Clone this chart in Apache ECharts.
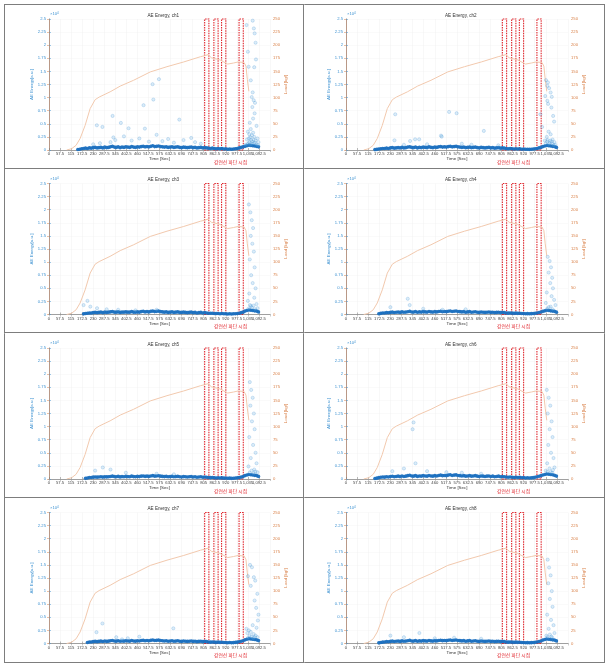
<!DOCTYPE html>
<html><head><meta charset="utf-8">
<script src="https://cdn.jsdelivr.net/npm/echarts@6/dist/echarts.min.js"></script>
<style>html,body{margin:0;padding:0;background:#fff}#c{width:609px;height:670px}</style>
</head><body><div id="c"></div>
<script>
// ---------------- data ----------------
const xTicks = [0,57.5,115,172.5,230,287.5,345,402.5,460,517.5,575,632.5,690,747.5,805,862.5,920,977.5,1035,1092.5,1150];
const energyTicks = [0,0.25,0.5,0.75,1,1.25,1.5,1.75,2,2.25,2.5]; // x10^4
const loadTicks = [0,25,50,75,100,125,150,175,200,225,250];
const channels = ['ch1','ch2','ch3','ch4','ch5','ch6','ch7','ch8'];

// load curve (kgf) vs time (s)
const loadTime  = [92,118,141,162,188,214,240,261,318,371,440,527,614,701,788,810,828,845,889,930,960,985,1015,1025,1032,1040];
const loadValue = [0,2.5,9,22,47,79,96,101,111,122,133,149,159,168,178,180,182,176,172,164,166,168,167,160,135,112];

// red dashed boxes: strand rupture moments
const breakStart = [810,858,898,989];
const breakEnd   = [832,880,920,1011];

// dense low-energy band: times (s)
const bandTime = [150,160,170,180,190,200,210,220,230,240,250,260,270,280,290,300,310,320,330,340,350,360,370,380,390,400,410,420,430,440,450,460,470,480,490,500,510,520,530,540,550,560,570,580,590,600,610,620,630,640,650,660,670,680,690,700,710,720,730,740,750,760,770,780,790,800,810,820,830,840,850,860,870,880,890,900,910,920,930,940,950,960,970,980,990,1000,1010,1020,1030,1040,1050,1060,1070,1080,1090,1100];
const band_ch1 = [100,150,250,300,350,300,400,350,450,500,400,450,500,400,550,450,500,600,700,550,500,600,450,550,500,600,550,500,650,550,500,600,550,650,700,600,650,600,700,800,650,700,750,650,600,550,600,500,550,600,500,550,600,500,450,550,500,450,500,550,450,500,400,450,500,400,450,400,350,300,350,300,250,300,250,300,200,250,150,200,150,200,250,300,400,500,600,700,800,900,850,800,750,700,600,null];
const band_ch2 = [80,120,200,250,300,300,350,300,400,450,350,400,450,400,500,400,450,550,600,500,450,550,400,500,450,550,500,450,600,500,450,550,500,600,650,550,600,550,650,700,600,650,700,600,550,500,550,450,500,550,450,500,550,450,400,500,450,400,450,500,400,450,350,400,450,350,400,350,300,250,300,250,200,250,200,250,150,200,150,150,120,150,200,250,300,400,500,650,750,850,800,750,700,650,500,null];
const band_ch3 = [null,null,null,120,200,250,300,300,350,400,350,400,450,350,450,400,450,500,550,450,450,500,400,450,450,500,450,450,550,450,450,500,450,550,600,500,550,500,600,650,550,600,650,550,500,450,500,400,450,500,400,450,500,400,400,450,400,350,400,450,350,400,300,350,400,300,350,300,250,250,250,200,200,200,150,200,150,150,100,150,100,150,150,200,250,350,450,650,750,850,800,750,700,650,500,null];
const band_ch4 = [null,null,150,220,280,300,350,320,400,450,380,420,460,400,500,420,460,520,600,480,460,540,420,500,460,540,500,460,580,500,460,540,500,580,620,540,580,540,620,680,580,620,660,580,540,500,540,440,500,540,440,480,520,440,400,480,440,400,440,480,400,440,360,400,440,360,400,360,300,260,300,260,220,260,220,240,180,200,150,160,140,160,200,240,300,380,480,600,700,800,750,700,650,600,450,null];
const band_ch5 = [null,null,null,null,120,200,280,300,350,380,350,380,420,360,440,400,440,480,540,460,440,500,400,460,440,500,460,440,540,460,440,500,460,540,580,500,540,500,580,640,540,580,620,540,500,460,500,420,460,500,420,460,500,420,380,460,420,380,420,460,380,420,340,380,420,340,380,340,300,260,280,240,200,240,200,220,160,180,140,160,120,150,180,220,280,360,460,650,750,850,800,750,700,650,500,null];
const band_ch6 = [100,160,260,320,380,350,420,380,480,520,440,480,540,460,580,480,540,640,720,580,540,640,500,580,540,640,580,540,680,580,540,640,580,680,740,640,680,640,740,820,680,740,780,680,640,580,640,540,580,640,540,580,640,540,480,580,540,480,540,580,480,540,440,480,540,440,480,440,380,340,380,340,280,340,280,320,240,280,200,240,180,220,260,320,420,520,640,750,850,950,900,850,800,700,550,null];
const band_ch7 = [null,null,null,null,null,180,280,300,350,400,350,400,450,380,470,400,450,520,580,480,450,520,420,480,450,520,480,450,560,480,450,520,480,560,600,520,560,520,600,660,560,600,650,560,520,480,520,420,480,520,420,460,520,420,400,480,420,400,420,480,400,420,350,400,420,350,400,350,300,260,300,260,220,260,220,240,180,200,150,180,140,170,220,260,340,420,520,700,800,900,850,800,750,700,550,null];
const band_ch8 = [null,null,120,200,260,300,350,320,400,450,380,420,460,400,500,420,460,520,600,480,460,540,420,500,460,540,500,460,580,500,460,540,500,580,620,540,580,540,620,680,580,620,660,580,540,500,540,440,500,540,440,480,520,440,400,480,440,400,440,480,400,440,360,400,440,360,400,360,300,260,300,260,220,260,220,240,180,200,150,160,140,160,200,240,300,380,480,650,750,850,800,750,700,650,500,null];

// sparse events [time s, energy]
const pts_ch1 = [[249,4720],[278,4400],[331,6500],[374,5170],[414,4150],[492,8550],[499,4080],[539,12560],[543,9630],[572,13520],[678,5800],[320,1500],[335,2400],[345,1900],[390,2600],[430,1800],[470,2200],[520,1600],[560,2900],[590,1700],[620,2100],[650,1400],[700,1900],[740,2300],[760,1500],[790,1200],[230,1100],[265,1300],
 [1028,23850],[1060,24680],[1066,23200],[1070,22260],[1075,20470],[1035,18750],[1077,17280],[1039,15880],[1068,15800],[1050,13300],[1060,11000],[1055,10100],[1065,9500],[1072,9000],[1058,8200],[1070,7000],[1062,6000],[1045,5200],[1080,4600],[1050,4000],[1035,3500],[1042,3000],[1056,2800],[1068,2500],[1085,2200],[1030,2000],[1075,1800],[1090,1500],[1038,1300],[1047,2400],[1062,3300],[1022,1000],
 [1032,1100],[1044,1500],[1052,1900],[1058,1200],[1064,2000],[1072,1400],[1080,1000],[1088,900],[1040,2200],[1048,1000],[1056,1600],[1066,1300]];
const pts_ch2 = [[255,6820],[251,1850],[332,1720],[358,2040],[379,2040],[492,2740],[496,2550],[534,7270],[573,7020],[714,3640],[789,900],[300,1000],[420,1100],[600,1200],[650,1000],
 [1036,13330],[1046,12900],[1043,12250],[1052,11800],[1060,10970],[1066,10140],[1032,10300],[1043,9380],[1047,8800],[1064,8100],[1073,6500],[1078,5420],[1007,6820],[1016,4400],[1050,3500],[1060,3000],[1040,2500],[1070,2000],[1030,1800],[1080,1500],[1055,1300],[1045,1900],[1065,1600],
 [1034,1200],[1042,1600],[1050,1100],[1058,1800],[1068,1200],[1076,900],[1084,1000]];
const pts_ch3 = [[180,1800],[200,2600],[215,1500],[250,1200],[300,1000],[360,900],[450,800],[560,900],
 [1040,21000],[1048,19500],[1055,18000],[1062,16500],[1050,15000],[1058,13500],[1066,12000],[1045,10500],[1070,9000],[1052,7500],[1060,6000],[1075,5000],[1042,4000],[1068,3200],[1035,2600],[1080,2000],[1050,1600],[1085,1200],
 [1038,1100],[1046,1800],[1056,1300],[1064,1700],[1072,1000]];
const pts_ch4 = [[230,1400],[320,3000],[330,1800],[400,1100],[500,900],[620,1000],
 [1045,11000],[1055,10200],[1062,9000],[1050,8000],[1068,7000],[1058,6000],[1072,5000],[1040,4200],[1065,3500],[1078,2800],[1035,2200],[1085,1800],[1050,1400],
 [1042,1100],[1060,1500],[1070,1000]];
const pts_ch5 = [[240,1600],[280,2200],[320,1800],[400,1200],[560,1000],[650,900],
 [1045,18500],[1052,17000],[1060,15500],[1048,14000],[1066,12500],[1056,11000],[1070,9500],[1042,8000],[1062,6500],[1075,5000],[1050,4000],[1080,3000],[1038,2400],[1068,1800],[1085,1300],
 [1044,1200],[1054,1600],[1064,1100],[1074,1400]];
const pts_ch6 = [[240,1500],[300,2000],[345,9500],[350,10800],[360,3000],[420,1500],[520,1300],[600,1200],[700,1000],
 [1040,17000],[1050,15500],[1058,14000],[1045,12500],[1065,11000],[1055,9500],[1070,8000],[1048,6500],[1062,5000],[1075,4000],[1042,3000],[1080,2200],[1035,1600],[1068,1200],
 [1044,1400],[1054,2000],[1060,1300],[1072,1700]];
const pts_ch7 = [[247,2160],[278,3820],[647,2900],[350,1200],[410,1000],[470,1300],[380,800],
 [1046,15000],[1056,14550],[1035,12850],[1066,12650],[1073,12000],[1050,11000],[1084,9480],[1070,8200],[1078,6800],[1087,4390],[1090,5500],[1060,3500],[1080,3000],[1040,2500],[1050,2200],[1027,2800],[1032,2000],[1065,1800],[1075,1500],[1085,1200],
 [1036,1100],[1044,1500],[1054,1300],[1062,1000],[1070,1200]];
const pts_ch8 = [[230,1500],[300,1200],[380,2000],[460,1000],[560,1100],[700,900],
 [1045,16000],[1052,14500],[1060,13000],[1048,11500],[1066,10000],[1056,8500],[1070,7000],[1042,5500],[1062,4500],[1075,3500],[1050,2800],[1080,2000],[1038,1500],[1068,1100],
 [1044,1200],[1056,1700],[1064,1300]];

const bands = [band_ch1,band_ch2,band_ch3,band_ch4,band_ch5,band_ch6,band_ch7,band_ch8];
const sparse = [pts_ch1,pts_ch2,pts_ch3,pts_ch4,pts_ch5,pts_ch6,pts_ch7,pts_ch8];

// ---------------- layout ----------------
const colX = [49, 346], colW = [221, 222];
const rowY = [19, 183.5, 348, 512.5], plotH = 131;
const blueAxis = '#3f93d2', orangeAxis = '#d98048';
const FS = 4.2;

const grid = [], xAxis = [], yAxis = [], series = [], graphic = [];
const xInt = xTicks[1] - xTicks[0];
const yInt = (energyTicks[1] - energyTicks[0]) * 1e4;
const lInt = loadTicks[1] - loadTicks[0];

channels.forEach((ch, i) => {
  const col = i % 2, row = Math.floor(i / 2);
  const L = colX[col], T = rowY[row], W = colW[col];
  grid.push({left: L, top: T, width: W, height: plotH, show: false});
  xAxis.push({gridIndex: i, type: 'value', min: xTicks[0], max: xTicks[xTicks.length-1], interval: xInt,
    name: 'Time [Sec]', nameLocation: 'middle', nameGap: 7, nameTextStyle: {fontSize: 4.4, color: '#333'},
    axisLine: {lineStyle: {color: '#777', width: 0.6}},
    axisTick: {inside: true, length: 2, lineStyle: {color: '#777', width: 0.5}},
    axisLabel: {fontSize: FS, color: '#444', margin: 2},
    splitLine: {show: true, lineStyle: {color: '#f1f1f1', width: 0.5}}});
  xAxis.push({gridIndex: i, type: 'value', position: 'top', min: xTicks[0], max: xTicks[xTicks.length-1], interval: xInt,
    axisLine: {lineStyle: {color: '#999', width: 0.6}},
    axisTick: {inside: true, length: 2, lineStyle: {color: '#999', width: 0.5}},
    axisLabel: {show: false}, splitLine: {show: false}});
  yAxis.push({gridIndex: i, type: 'value', min: energyTicks[0]*1e4, max: energyTicks[energyTicks.length-1]*1e4, interval: yInt,
    name: 'AE Energy[a.u.]', nameLocation: 'middle', nameGap: 12, nameRotate: 90,
    nameTextStyle: {fontSize: 4.4, color: blueAxis},
    axisLine: {show: true, lineStyle: {color: blueAxis, width: 0.6}},
    axisTick: {show: true, inside: true, length: 2, lineStyle: {color: blueAxis, width: 0.5}},
    axisLabel: {fontSize: FS, color: blueAxis, margin: 3, formatter: v => String(+(v/1e4).toFixed(2))},
    splitLine: {show: true, lineStyle: {color: '#f4f4f4', width: 0.5}}});
  yAxis.push({gridIndex: i, type: 'value', position: 'right', min: loadTicks[0], max: loadTicks[loadTicks.length-1], interval: lInt,
    name: 'Load [kgf]', nameLocation: 'middle', nameGap: 13, nameRotate: 90,
    nameTextStyle: {fontSize: 4.4, color: orangeAxis},
    axisLine: {show: true, lineStyle: {color: orangeAxis, width: 0.6}},
    axisTick: {show: true, inside: true, length: 2, lineStyle: {color: orangeAxis, width: 0.5}},
    axisLabel: {fontSize: FS, color: orangeAxis, margin: 3},
    splitLine: {show: false}});

  const bandData = [];
  bandTime.forEach((t, k) => { if (bands[i][k] != null) bandData.push([t, bands[i][k]]); });
  series.push({type: 'scatter', xAxisIndex: 2*i, yAxisIndex: 2*i, data: bandData, symbolSize: 3.6,
    itemStyle: {color: '#1a6fbf', opacity: 0.95}, silent: true, z: 3});
  series.push({type: 'scatter', xAxisIndex: 2*i, yAxisIndex: 2*i, data: sparse[i], symbolSize: 3.2,
    itemStyle: {color: 'rgba(110,180,230,0.3)', borderColor: 'rgba(40,130,205,0.5)', borderWidth: 0.5}, silent: true, z: 4});
  series.push({type: 'line', xAxisIndex: 2*i, yAxisIndex: 2*i+1, data: loadTime.map((t, k) => [t, loadValue[k]]),
    showSymbol: false, lineStyle: {color: '#f2c9ae', width: 1}, silent: true, z: 2,
    markArea: {silent: true, itemStyle: {color: 'rgba(0,0,0,0)', borderColor: '#e0262d', borderWidth: 1.1, borderType: [1.5, 1]},
      data: breakStart.map((s, k) => [{xAxis: s}, {xAxis: breakEnd[k]}])}});

  graphic.push({type: 'text', left: L + W/2 - 12, top: T - 6, style: {text: 'AE Energy, ' + ch, fontSize: 4.6, fill: '#333', fontFamily: 'Liberation Sans'}});
  graphic.push({type: 'text', left: L + 1, top: T - 7, style: {text: '×10{s|4}', rich: {s: {fontSize: 3, verticalAlign: 'top', fill: blueAxis}}, fontSize: 4.2, fill: blueAxis}});
  graphic.push({type: 'text', left: (col === 0 ? 214 : 497), top: T + plotH + 9.5, style: {text: '강연선 파단 시점', fontSize: 4.8, fill: '#e0262d', fontFamily: 'Noto Sans CJK KR'}});
});

// table borders
const hy = [4.5, 168.5, 332.5, 497.5, 662.5];
const vx = [4.5, 303.5, 604.5];
hy.forEach(y => graphic.push({type: 'line', shape: {x1: 4, y1: y, x2: 605, y2: y}, style: {stroke: '#7d7d7d', lineWidth: 1}, z: 100}));
vx.forEach(x => graphic.push({type: 'line', shape: {x1: x, y1: 4, x2: x, y2: 663}, style: {stroke: '#7d7d7d', lineWidth: 1}, z: 100}));

const chart = echarts.init(document.getElementById('c'), null, {renderer: 'canvas'});
chart.setOption({animation: false, backgroundColor: '#fff', textStyle: {fontFamily: 'Liberation Sans'},
  grid, xAxis, yAxis, series, graphic});
</script></body></html>
